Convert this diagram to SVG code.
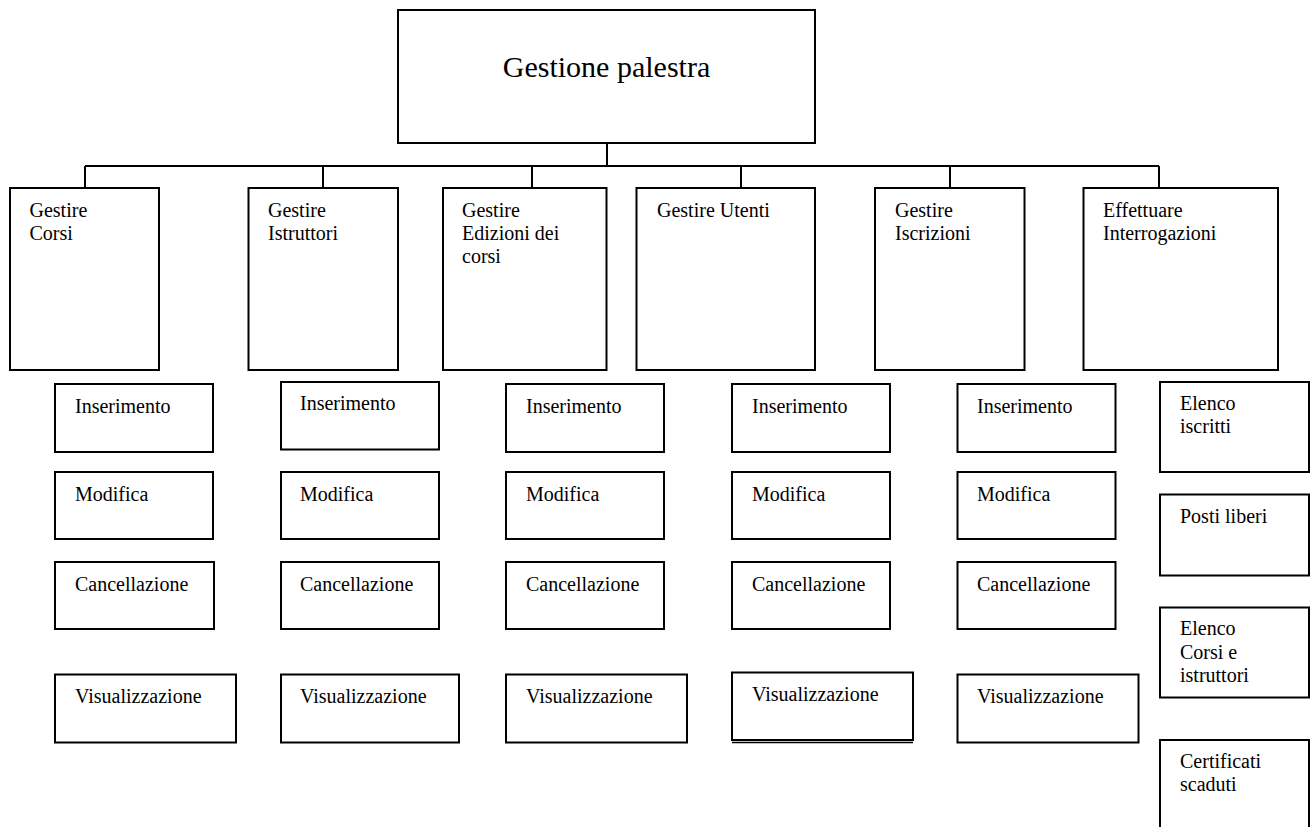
<svg xmlns="http://www.w3.org/2000/svg" width="1315" height="827" viewBox="0 0 1315 827">
<style>
rect{fill:#fff;stroke:#000;stroke-width:2}
text{font-family:"Liberation Serif","Times New Roman",serif;font-size:20px;fill:#000}
.c{fill:none;stroke:#000;stroke-width:2}
.root{font-size:30px}
</style>
<rect x="0" y="0" width="1315" height="827" style="stroke:none"/>
<g id="connectors">
<path class="c" d="M607 143V166M85 166H1159M85 166V188M323 166V188M532 166V188M741 166V188M950 166V188M1159 166V188"/>
</g>
<g id="root"><rect x="398" y="10" width="417" height="133"/><text class="root" x="606.5" y="77" text-anchor="middle">Gestione palestra</text></g>
<g id="n-corsi"><rect x="10" y="188" width="149" height="182"/><text x="29.5" y="217">Gestire</text><text x="29.5" y="240">Corsi</text></g>
<g id="n-istruttori"><rect x="248.5" y="188" width="149.5" height="182"/><text x="268" y="217">Gestire</text><text x="268" y="240">Istruttori</text></g>
<g id="n-edizioni"><rect x="443" y="188" width="163.5" height="182"/><text x="462" y="217">Gestire</text><text x="462" y="240">Edizioni dei</text><text x="462" y="263">corsi</text></g>
<g id="n-utenti"><rect x="636.5" y="188" width="178.5" height="182"/><text x="657" y="217">Gestire Utenti</text></g>
<g id="n-iscrizioni"><rect x="875" y="188" width="149.5" height="182"/><text x="895" y="217">Gestire</text><text x="895" y="240">Iscrizioni</text></g>
<g id="n-interrogazioni"><rect x="1083.5" y="188" width="194.5" height="182"/><text x="1103" y="217">Effettuare</text><text x="1103" y="240">Interrogazioni</text></g>

<g id="c1-ins"><rect x="55" y="384" width="158" height="68"/><text x="75" y="413">Inserimento</text></g>
<g id="c1-mod"><rect x="55" y="472" width="158" height="67"/><text x="75" y="501">Modifica</text></g>
<g id="c1-canc"><rect x="55" y="562" width="159" height="67"/><text x="75" y="591">Cancellazione</text></g>
<g id="c1-vis"><rect x="55" y="674.5" width="181" height="68"/><text x="75" y="703">Visualizzazione</text></g>

<g id="c2-ins"><rect x="281" y="382" width="158" height="67.5"/><text x="300" y="410">Inserimento</text></g>
<g id="c2-mod"><rect x="281" y="472" width="158" height="67"/><text x="300" y="501">Modifica</text></g>
<g id="c2-canc"><rect x="281" y="562" width="158" height="67"/><text x="300" y="591">Cancellazione</text></g>
<g id="c2-vis"><rect x="281" y="674.5" width="178" height="68"/><text x="300" y="703">Visualizzazione</text></g>

<g id="c3-ins"><rect x="506" y="384" width="158" height="68"/><text x="526" y="413">Inserimento</text></g>
<g id="c3-mod"><rect x="506" y="472" width="158" height="67"/><text x="526" y="501">Modifica</text></g>
<g id="c3-canc"><rect x="506" y="562" width="158" height="67"/><text x="526" y="591">Cancellazione</text></g>
<g id="c3-vis"><rect x="506" y="674.5" width="181" height="68"/><text x="526" y="703">Visualizzazione</text></g>

<g id="c4-ins"><rect x="732" y="384" width="158" height="68"/><text x="752" y="413">Inserimento</text></g>
<g id="c4-mod"><rect x="732" y="472" width="158" height="67"/><text x="752" y="501">Modifica</text></g>
<g id="c4-canc"><rect x="732" y="562" width="158" height="67"/><text x="752" y="591">Cancellazione</text></g>
<g id="c4-vis"><rect x="732" y="672.5" width="181" height="67.5"/><path class="c" d="M732 742.5H913" style="stroke-width:1.5"/><text x="752" y="700.5">Visualizzazione</text></g>

<g id="c5-ins"><rect x="957.5" y="384" width="158" height="68"/><text x="977" y="413">Inserimento</text></g>
<g id="c5-mod"><rect x="957.5" y="472" width="158" height="67"/><text x="977" y="501">Modifica</text></g>
<g id="c5-canc"><rect x="957.5" y="562" width="158" height="67"/><text x="977" y="591">Cancellazione</text></g>
<g id="c5-vis"><rect x="957.5" y="674.5" width="181" height="68"/><text x="977" y="703">Visualizzazione</text></g>

<g id="c6-iscritti"><rect x="1160" y="382" width="149" height="90"/><text x="1180" y="409.5">Elenco</text><text x="1180" y="433">iscritti</text></g>
<g id="c6-posti"><rect x="1160" y="494.5" width="149" height="81"/><text x="1180" y="523">Posti liberi</text></g>
<g id="c6-elenco"><rect x="1160" y="607.5" width="149" height="90"/><text x="1180" y="635">Elenco</text><text x="1180" y="658.5">Corsi e</text><text x="1180" y="682">istruttori</text></g>
<g id="c6-cert"><rect x="1160" y="740" width="149" height="100"/><text x="1180" y="768">Certificati</text><text x="1180" y="791">scaduti</text></g>
</svg>
